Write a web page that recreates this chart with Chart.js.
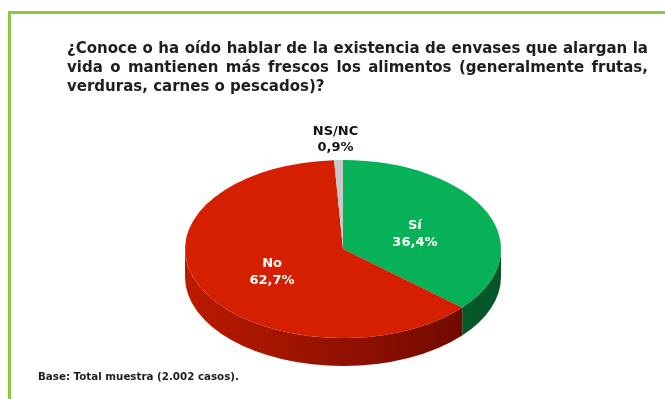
<!DOCTYPE html>
<html>
<head>
<meta charset="utf-8">
<script src="https://cdn.jsdelivr.net/npm/chart.js@4.4.0/dist/chart.umd.min.js"></script>
<style>
  html, body { margin: 0; padding: 0; background: #fff; }
  #wrap { position: relative; width: 665px; height: 399px; overflow: hidden; }
  #frame { position: absolute; left: 8px; top: 11px; right: -10px; bottom: -10px;
           border-top: 3px solid #8cc63f; border-left: 3px solid #8cc63f; }
  #titulo { position: absolute; left: 67px; top: 39px; width: 581px;
            font: bold 15px 'DejaVu Sans', sans-serif; color: #1e1e1e; line-height: 19px; }
  #titulo .just { text-align: justify; text-align-last: justify; }
  #base { position: absolute; left: 38px; top: 370px; font: bold 10.3px 'DejaVu Sans', sans-serif; color: #1e1e1e; }
  #grafico { position: absolute; left: 0; top: 0; }
</style>
</head>
<body>
<div id="wrap">
  <div id="frame"></div>
  <canvas id="grafico" width="665" height="399"></canvas>
  <div id="titulo">
    <div class="just">¿Conoce o ha oído hablar de la existencia de envases que alargan la</div>
    <div class="just">vida o mantienen más frescos los alimentos (generalmente frutas,</div>
    <div>verduras, carnes o pescados)?</div>
  </div>
  <div id="base">Base: Total muestra (2.002 casos).</div>
</div>
<script>
// Datos del gráfico
const categorias = ['Sí', 'No', 'NS/NC'];
const porcentajes = [36.4, 62.7, 0.9];
const coloresTapa = ['#06b158', '#d42000', '#c8c8c8'];
const coloresLado = [['#0a7a3c', '#05552a'], ['#bb1a00', '#680800'], ['#a0a0a0', '#8a8a8a']];

// Geometría del pastel "3D"
const CENTRO_X = 343;
const CENTRO_Y = 249;
const RADIO_X = 158;
const RADIO_Y = 89;
const ESPESOR = 28;

function formatoPct(v) {
  return v.toFixed(1).replace('.', ',') + '%';
}

const pastel3d = {
  id: 'pastel3d',
  beforeDatasetsDraw(chart) {
    const ctx = chart.ctx;
    const arcos = chart.getDatasetMeta(0).data;
    // lados visibles (mitad delantera)
    arcos.forEach((arco, i) => {
      for (let k = -1; k <= 1; k++) {
        const lo = Math.max(arco.startAngle, 2 * Math.PI * k);
        const hi = Math.min(arco.endAngle, 2 * Math.PI * k + Math.PI);
        if (hi <= lo) continue;
        const grad = ctx.createLinearGradient(CENTRO_X - RADIO_X, 0, CENTRO_X + RADIO_X, 0);
        grad.addColorStop(0, coloresLado[i][0]);
        grad.addColorStop(1, coloresLado[i][1]);
        ctx.save();
        ctx.beginPath();
        ctx.ellipse(CENTRO_X, CENTRO_Y, RADIO_X, RADIO_Y, 0, lo, hi);
        ctx.ellipse(CENTRO_X, CENTRO_Y + ESPESOR, RADIO_X, RADIO_Y, 0, hi, lo, true);
        ctx.closePath();
        ctx.fillStyle = grad;
        ctx.fill();
        ctx.restore();
      }
    });
    // aplastar la tapa
    const a = arcos[0];
    ctx.save();
    ctx.translate(CENTRO_X, CENTRO_Y);
    ctx.scale(RADIO_X / a.outerRadius, RADIO_Y / a.outerRadius);
    ctx.translate(-a.x, -a.y);
  },
  afterDatasetsDraw(chart) {
    const ctx = chart.ctx;
    ctx.restore();
    const arcos = chart.getDatasetMeta(0).data;
    ctx.save();
    ctx.textAlign = 'center';
    ctx.textBaseline = 'middle';
    ctx.font = 'bold 13px "DejaVu Sans"';
    arcos.forEach((arco, i) => {
      const medio = (arco.startAngle + arco.endAngle) / 2;
      if (porcentajes[i] < 5) {
        const x = CENTRO_X + RADIO_X * Math.cos(medio) - 3;
        const y = CENTRO_Y + RADIO_Y * Math.sin(medio);
        ctx.fillStyle = '#111';
        ctx.fillText(categorias[i], x, y - 28);
        ctx.fillText(formatoPct(porcentajes[i]), x, y - 12);
      } else {
        const x = CENTRO_X + 0.5 * RADIO_X * Math.cos(medio);
        const y = CENTRO_Y + 0.5 * RADIO_Y * Math.sin(medio) + 3;
        ctx.fillStyle = '#fff';
        ctx.fillText(categorias[i], x, y - 8);
        ctx.fillText(formatoPct(porcentajes[i]), x, y + 9);
      }
    });
    ctx.restore();
  }
};

new Chart(document.getElementById('grafico'), {
  type: 'pie',
  data: {
    labels: categorias,
    datasets: [{
      data: porcentajes,
      backgroundColor: coloresTapa,
      borderWidth: 0,
      hoverOffset: 0
    }]
  },
  options: {
    responsive: false,
    animation: false,
    layout: { padding: 0 },
    plugins: {
      legend: { display: false },
      tooltip: { enabled: false },
      title: { display: false }
    }
  },
  plugins: [pastel3d]
});
</script>
</body>
</html>
